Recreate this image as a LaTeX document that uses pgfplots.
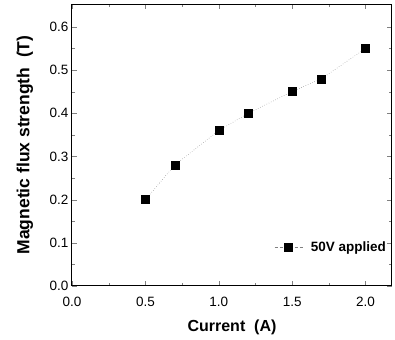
\documentclass[border=0pt]{standalone}
\usepackage{pgfplots}
\pgfplotsset{compat=1.18}
\usepackage{fontspec}
\setmainfont{Liberation Sans}
\begin{document}
\begin{tikzpicture}
\begin{axis}[
  scale only axis,
  width=320pt, height=282pt,
  xmin=0, xmax=2.18, ymin=0, ymax=0.653,
  xtick={0,0.5,...,2.0}, ytick={0,0.1,...,0.6},
  minor x tick num=1, minor y tick num=1,
  tick align=inside,
  major tick length=5pt, minor tick length=3pt,
  xticklabel style={/pgf/number format/fixed,/pgf/number format/fixed zerofill,/pgf/number format/precision=1, yshift=-8pt},
  yticklabel style={/pgf/number format/fixed,/pgf/number format/fixed zerofill,/pgf/number format/precision=1},
  /pgf/number format/assume math mode=true,
  tick label style={font=\fontsize{13.5}{15}\selectfont},
  xlabel={\textbf{Current\ \ (A)}},
  ylabel={\textbf{Magnetic flux strength\ \ (T)}},
  xlabel style={font=\fontsize{16}{18}\selectfont, at={(axis description cs:0.5,-0.145)}, anchor=center},
  ylabel style={font=\fontsize{17.5}{19}\selectfont, at={(axis description cs:-0.147,0.5)}, anchor=center},
  axis line style={line width=1pt},
  clip=false,
  legend style={draw=none, fill=none, at={(axis description cs:0.9875,0.138)}, anchor=east, font=\fontsize{13.5}{15}\selectfont\bfseries, inner sep=0pt},
  legend image code/.code={\draw[mark repeat=2,mark phase=2,densely dashed,gray] plot coordinates {(0pt,0pt)(14pt,0pt)(28pt,0pt)};},
  legend cell align=left,
]
\addplot[black!70, dotted, mark=square*, mark size=4pt, mark options={solid,black}] coordinates {
(0.5,0.20) (0.7,0.28) (1.0,0.36) (1.2,0.40) (1.5,0.45) (1.7,0.48) (2.0,0.55)};
\addlegendentry{\hspace{6pt}50V applied}
\path (axis description cs:-0.225,-0.1915) rectangle (axis description cs:1.0094,1.0142);
\end{axis}
\end{tikzpicture}
\end{document}
